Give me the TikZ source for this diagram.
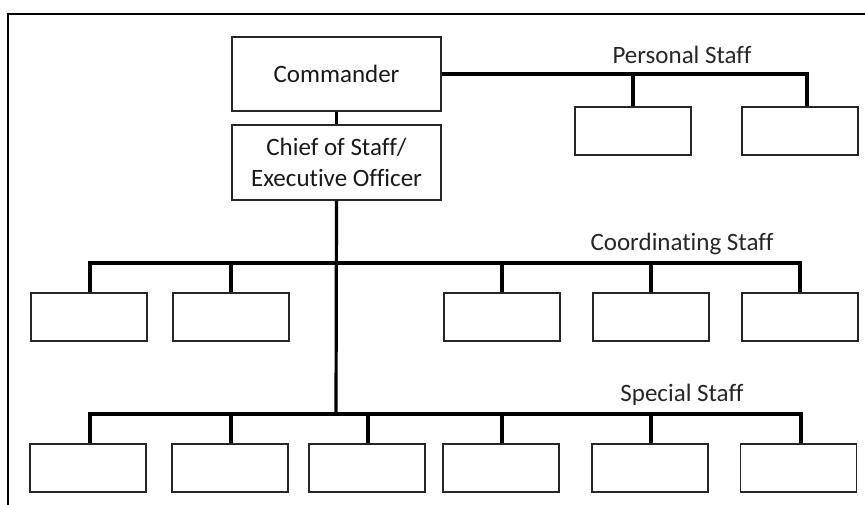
\documentclass[tikz,border=0pt]{standalone}
\usepackage{fontspec}
\setmainfont{Carlito}[Ligatures={NoCommon,NoContextual}]
\begin{document}
\begin{tikzpicture}[x=1pt,y=-1pt,
  box/.style={draw=black!85,line width=1.1pt,minimum width=116pt,minimum height=48pt,inner sep=0pt},
  bigbox/.style={draw=black!85,line width=1.1pt,minimum width=209pt,inner sep=0pt,align=center,font=\fontsize{25}{31}\selectfont,text=black!90},
  bus/.style={line width=3.2pt,line cap=butt},
  lbl/.style={font=\fontsize{25}{30}\selectfont,text=black!85,inner sep=0pt}]
\useasboundingbox (0,0) rectangle (865,504);
\clip (0,0) rectangle (865,504);
\draw[line width=2.4pt] (8,14) rectangle (880,520);
% top boxes
\node[bigbox,minimum height=74pt] (cmd) at (336.5,74) {Commander};
\node[bigbox,minimum height=75pt] (cos) at (336.5,162.5) {Chief of Staff/\\Executive Officer};
% personal
\node[box] (p1) at (633,131) {};
\node[box] (p2) at (800,131) {};
\node[lbl] (lp) at (682,55) {Personal Staff};
% coordinating
\node[box] (c1) at (89,317) {};
\node[box] (c2) at (231,317) {};
\node[box] (c3) at (502,317) {};
\node[box] (c4) at (651,317) {};
\node[box] (c5) at (800,317) {};
\node[lbl] (lc) at (682,244) {Coordinating Staff};
% special
\node[box] (s1) at (88,468) {};
\node[box] (s2) at (230,468) {};
\node[box] (s3) at (367,468) {};
\node[box] (s4) at (501,468) {};
\node[box] (s5) at (650,468) {};
\node[box] (s6) at (798.5,468) {};
\node[lbl] (ls) at (682,395) {Special Staff};
\coordinate (cb) at (336,263);
\coordinate (sb) at (336,414);
% connectors
\draw[bus] (cmd.south) -- (cos.north);
\draw[bus] (cmd.east) -| ([xshift=7pt]p2.north);
\draw[bus] (p1.north) -- (p1.north |- cmd.east);
\draw[bus] (cos.south) -- (sb);
\draw[bus] ([xshift=1pt]c1.north) |- (c5.north |- cb) -- (c5.north);
\foreach \n in {c2,c3,c4} \draw[bus] (\n.north) -- (\n.north |- cb);
\draw[bus] ([xshift=2pt]s1.north) |- ([xshift=2.5pt]s6.north |- sb) -- ([xshift=2.5pt]s6.north);
\foreach \n in {s2,s3,s4,s5} \draw[bus] ([xshift=1pt]\n.north) -- ([xshift=1pt]\n.north |- sb);
\end{tikzpicture}
\end{document}
